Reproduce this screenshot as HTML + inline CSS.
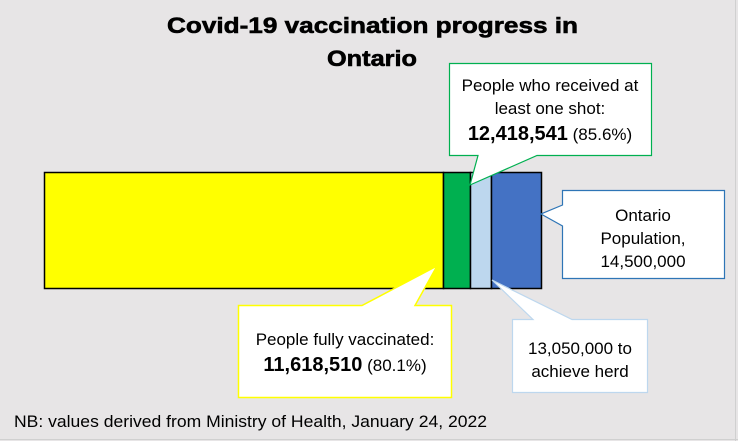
<!DOCTYPE html>
<html><head><meta charset="utf-8"><style>
html,body{margin:0;padding:0;background:#e7e5e6;}
svg{display:block;font-family:"Liberation Sans",sans-serif;}
</style></head><body>
<svg width="738" height="441" viewBox="0 0 738 441" xmlns="http://www.w3.org/2000/svg">
<rect x="0" y="0" width="738" height="441" fill="#e7e5e6"/>
<line x1="735.5" y1="0" x2="735.5" y2="441" stroke="#d0d0d0"/>
<line x1="0" y1="439.5" x2="738" y2="439.5" stroke="#d0d0d0"/>
<text x="167" y="33" font-size="22" font-weight="bold" stroke="#000" stroke-width="0.6" textLength="411" lengthAdjust="spacingAndGlyphs">Covid-19 vaccination progress in</text>
<text x="327" y="66" font-size="22" font-weight="bold" stroke="#000" stroke-width="0.6" textLength="90" lengthAdjust="spacingAndGlyphs">Ontario</text>
<rect x="44.5" y="172.5" width="399" height="116" fill="#ffff00" stroke="#000" stroke-width="1.5"/>
<rect x="443.5" y="172.5" width="27" height="116" fill="#00b050" stroke="#000" stroke-width="1.5"/>
<rect x="470.5" y="172.5" width="21" height="116" fill="#bdd7ee" stroke="#000" stroke-width="1.5"/>
<rect x="491.5" y="172.5" width="50" height="116" fill="#4472c4" stroke="#000" stroke-width="1.5"/>
<path d="M449.5,63.5 H651.5 V155.5 H537 L470,185 L478,155.5 H449.5 Z" fill="#fff" stroke="#00b050" stroke-width="1.2"/>
<text x="550" y="91" font-size="17" text-anchor="middle">People who received at</text>
<text x="550" y="114" font-size="17" text-anchor="middle">least one shot:</text>
<text x="550" y="140" font-size="17" text-anchor="middle"><tspan font-size="20" font-weight="bold">12,418,541</tspan> (85.6%)</text>
<path d="M562.5,190.5 H724.5 V278.5 H562.5 V226 L541,214 L562.5,205 Z" fill="#fff" stroke="#2e75b6" stroke-width="1.2"/>
<text x="643" y="221" font-size="17" text-anchor="middle">Ontario</text>
<text x="643" y="244" font-size="17" text-anchor="middle">Population,</text>
<text x="643" y="267" font-size="17" text-anchor="middle">14,500,000</text>
<path d="M512.5,319.5 H533 L492,280 L572,319.5 H647.5 V392.5 H512.5 Z" fill="#fff" stroke="#bdd7ee" stroke-width="1.2"/>
<text x="580" y="354" font-size="17" text-anchor="middle">13,050,000 to</text>
<text x="580" y="377" font-size="17" text-anchor="middle">achieve herd</text>
<path d="M238.5,305.5 H362 L437,266 L415,305.5 H451.5 V397.5 H238.5 Z" fill="#fff" stroke="#ffff00" stroke-width="1.5"/>
<text x="345" y="345" font-size="17" text-anchor="middle">People fully vaccinated:</text>
<text x="345" y="371" font-size="17" text-anchor="middle"><tspan font-size="20" font-weight="bold">11,618,510</tspan> (80.1%)</text>
<text x="14" y="427" font-size="17" textLength="473" lengthAdjust="spacingAndGlyphs">NB: values derived from Ministry of Health, January 24, 2022</text>
</svg>
</body></html>
